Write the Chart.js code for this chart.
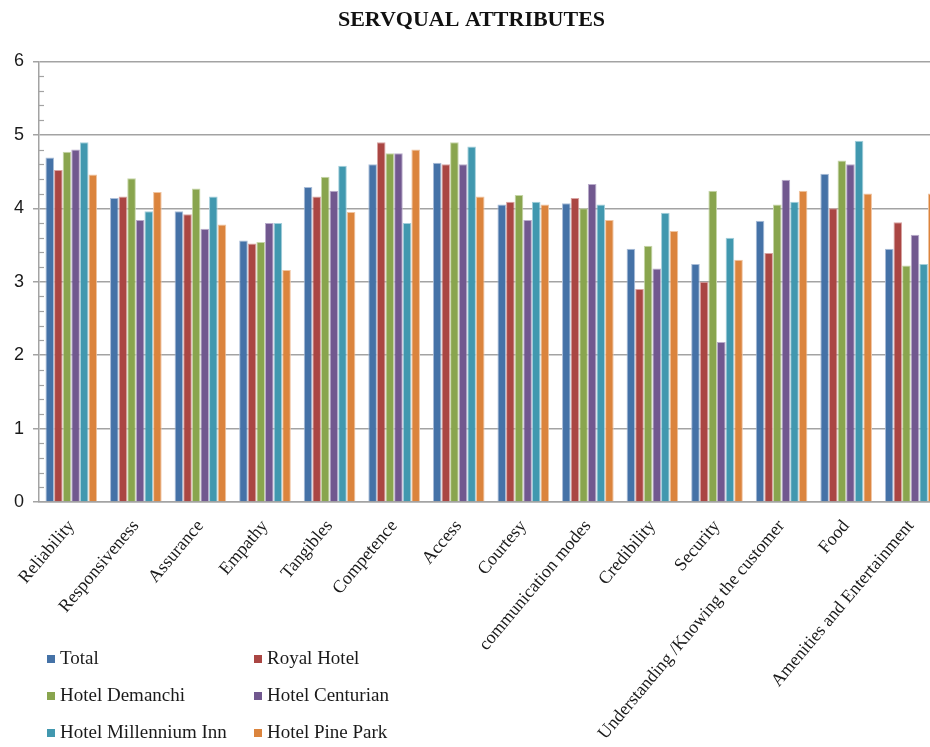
<!DOCTYPE html>
<html>
<head>
<meta charset="utf-8">
<script src="https://cdn.jsdelivr.net/npm/chart.js@4/dist/chart.umd.min.js"></script>
<style>
  html, body { margin: 0; padding: 0; background: #fff; overflow: hidden; }
  #wrap { width: 948px; height: 747px; }
</style>
</head>
<body>
<div id="wrap"><canvas id="c" width="948" height="747"></canvas></div>
<script>
// SERVQUAL attribute scores per hotel
const categories = [
  'Reliability', 'Responsiveness', 'Assurance', 'Empathy', 'Tangibles',
  'Competence', 'Access', 'Courtesy', 'communication modes', 'Credibility',
  'Security', 'Understanding /Knowing the customer', 'Food',
  'Amenities and Entertainment'
];
const seriesNames = ['Total', 'Royal Hotel', 'Hotel Demanchi', 'Hotel Centurian',
  'Hotel Millennium Inn', 'Hotel Pine Park'];
const total      = [4.69, 4.14, 3.96, 3.56, 4.29, 4.60, 4.62, 4.05, 4.07, 3.45, 3.24, 3.83, 4.47, 3.45];
const royal      = [4.52, 4.16, 3.92, 3.52, 4.16, 4.90, 4.60, 4.09, 4.14, 2.90, 3.00, 3.39, 4.00, 3.81];
const demanchi   = [4.77, 4.41, 4.27, 3.54, 4.43, 4.75, 4.90, 4.18, 4.00, 3.49, 4.24, 4.05, 4.65, 3.22];
const centurian  = [4.80, 3.84, 3.72, 3.80, 4.24, 4.75, 4.60, 3.84, 4.33, 3.18, 2.18, 4.39, 4.60, 3.64];
const millennium = [4.90, 3.96, 4.16, 3.80, 4.58, 3.80, 4.84, 4.09, 4.05, 3.94, 3.60, 4.09, 4.92, 3.24];
const pinePark   = [4.46, 4.22, 3.78, 3.16, 3.95, 4.80, 4.16, 4.05, 3.84, 3.69, 3.30, 4.24, 4.20, 4.20];
const yTicks = [0, 1, 2, 3, 4, 5, 6];

const fills   = ['#4572A7', '#AA4643', '#89A54E', '#71588F', '#4198AF', '#DB843D'];
const borders = ['#a9bdd8', '#d9a3a1', '#c6d6a8', '#b9accb', '#a3cfdb', '#f0c4a0'];
const seriesValues = [total, royal, demanchi, centurian, millennium, pinePark];

const GRID = '#a3a3a3';

// minor tick marks every 0.2 on the inside of the value axis
const minorTicks = {
  id: 'minorTicks',
  afterDatasetsDraw(chart) {
    const y = chart.scales.y;
    const x0 = chart.chartArea.left;
    const ctx = chart.ctx;
    ctx.save();
    ctx.strokeStyle = GRID;
    ctx.lineWidth = 1.2;
    for (let i = 0; i < 6; i++) {
      for (let k = 1; k < 5; k++) {
        const py = Math.round(y.getPixelForValue(i + k * 0.2)) + 0.5;
        ctx.beginPath();
        ctx.moveTo(x0, py);
        ctx.lineTo(x0 + 5, py);
        ctx.stroke();
      }
    }
    ctx.restore();
  }
};

// two-column legend in the lower-left corner
const sideLegend = {
  id: 'sideLegend',
  afterDraw(chart) {
    const ctx = chart.ctx;
    const cols = [47, 254];
    const rows = [664, 701, 738];
    ctx.save();
    ctx.font = '19px "Liberation Serif", "Times New Roman", serif';
    ctx.textBaseline = 'alphabetic';
    ctx.textAlign = 'left';
    chart.data.datasets.forEach((ds, i) => {
      const cx = cols[i % 2];
      const by = rows[Math.floor(i / 2)];
      ctx.fillStyle = ds.backgroundColor;
      ctx.fillRect(cx, by - 9, 8, 8);
      ctx.fillStyle = '#1a1a1a';
      ctx.fillText(ds.label, cx + 13, by);
    });
    ctx.restore();
  }
};

new Chart(document.getElementById('c'), {
  type: 'bar',
  data: {
    labels: categories,
    datasets: seriesNames.map((name, i) => ({
      label: name,
      data: seriesValues[i],
      backgroundColor: fills[i],
      borderColor: borders[i],
      borderWidth: 1,
      categoryPercentage: 0.8,
      barPercentage: 1.0
    }))
  },
  options: {
    responsive: false,
    animation: false,
    devicePixelRatio: 1,
    layout: { padding: { left: 0, right: 5, top: 0, bottom: 0 } },
    plugins: {
      legend: { display: false },
      tooltip: { enabled: false },
      title: {
        display: true,
        text: 'SERVQUAL ATTRIBUTES',
        color: '#111',
        font: { family: '"Liberation Serif", "Times New Roman", serif', size: 22, weight: 'bold' },
        padding: { top: 7, bottom: 28 }
      }
    },
    scales: {
      x: {
        grid: { display: false },
        border: { display: true, color: GRID, width: 1.5 },
        ticks: {
          autoSkip: false,
          minRotation: 50,
          maxRotation: 50,
          padding: 6,
          color: '#1a1a1a',
          font: { family: '"Liberation Serif", "Times New Roman", serif', size: 18 }
        },
        afterFit(scale) { scale.height = 245; }
      },
      y: {
        min: 0,
        max: 6,
        afterBuildTicks(scale) { scale.ticks = yTicks.map(v => ({ value: v })); },
        ticks: {
          padding: 9,
          color: '#1a1a1a',
          font: { family: '"Liberation Sans", Arial, sans-serif', size: 18 }
        },
        grid: { color: GRID, lineWidth: 1.5, tickLength: 6, drawTicks: true },
        border: { display: true, color: GRID, width: 1.5 },
        afterFit(scale) { scale.width = 39; }
      }
    }
  },
  plugins: [minorTicks, sideLegend]
});
</script>
</body>
</html>
